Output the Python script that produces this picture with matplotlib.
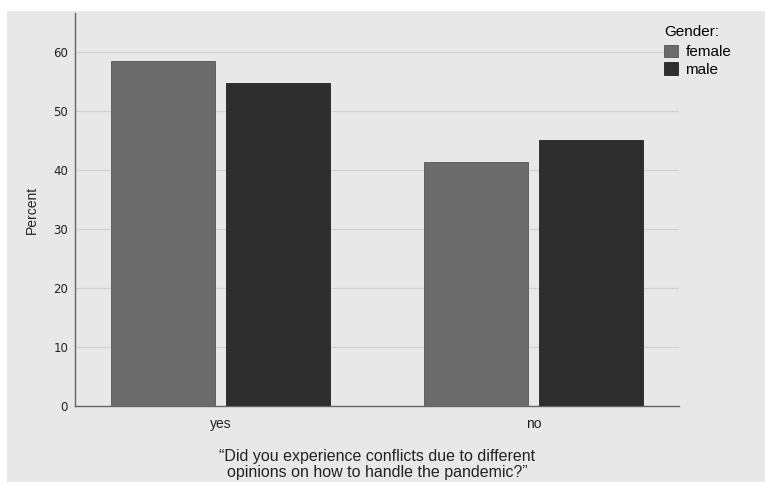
import numpy as np
import matplotlib.pyplot as plt
from matplotlib.patches import Rectangle

categories = ['yes', 'no']
genders = ['female', 'male']
female = [58.5, 41.4]
male = [54.7, 45.1]
colors = ['#6b6b6b', '#2e2e2e']

bg = '#e8e8e8'
fig = plt.figure(figsize=(7.65, 4.82), dpi=100)
fig.patch.set_facecolor('white')
fig.patches.append(Rectangle((7 / 765, 0), 1, 1 - 11 / 482, transform=fig.transFigure,
                             facecolor=bg, edgecolor='none', zorder=-10))

ax = fig.add_axes([75 / 765, 1 - 406 / 482, (679 - 75) / 765, (406 - 13) / 482])
ax.set_facecolor(bg)

x = np.arange(len(categories))
w = 0.332
off = (w + 0.038) / 2
ax.bar(x - off, female, w, color=colors[0], edgecolor='#555555', linewidth=0.6, label=genders[0], zorder=3)
ax.bar(x + off, male, w, color=colors[1], edgecolor='#222222', linewidth=0.6, label=genders[1], zorder=3)

ax.set_xlim(-0.465, 1.465)
ax.set_ylim(0, 66.6)
ax.set_yticks(range(0, 70, 10))
ax.yaxis.grid(True, color='#d2d2d2', linewidth=0.9, zorder=0)
ax.set_axisbelow(True)
ax.set_xticks(x)
ax.set_xticklabels(categories, fontsize=10, family='Liberation Sans', color='#222222')
ax.tick_params(axis='x', length=0, pad=8)
ax.tick_params(axis='y', length=0, pad=5, labelsize=8.5, labelcolor='#222222')

for s in ['top', 'right']:
    ax.spines[s].set_visible(False)
for s in ['left', 'bottom']:
    ax.spines[s].set_color('#666666')
    ax.spines[s].set_linewidth(1.0)

ax.set_ylabel('Percent', fontsize=10, family='Liberation Sans', color='#222222', labelpad=10)

fig.text(377 / 765, 1 - 457 / 482, '\u201cDid you experience conflicts due to different',
         ha='center', va='center', fontsize=11.5, family='Liberation Sans', color='#222222')
fig.text(377 / 765, 1 - 473 / 482, 'opinions on how to handle the pandemic?\u201d',
         ha='center', va='center', fontsize=11.5, family='Liberation Sans', color='#222222')

leg = fig.legend(title='Gender:', loc='upper left', bbox_to_anchor=(664 / 765, 1 - 25 / 482),
                 frameon=False, prop={'family': 'Liberation Sans', 'size': 11},
                 handlelength=0.9, handleheight=0.9, handletextpad=0.5, labelspacing=0.2,
                 borderaxespad=0, borderpad=0)
leg.get_title().set_family('Liberation Sans')
leg.get_title().set_fontsize(11)
leg._legend_box.align = 'left'
leg._legend_box.sep = 4

plt.savefig('out.png', dpi=100, facecolor=fig.get_facecolor())
